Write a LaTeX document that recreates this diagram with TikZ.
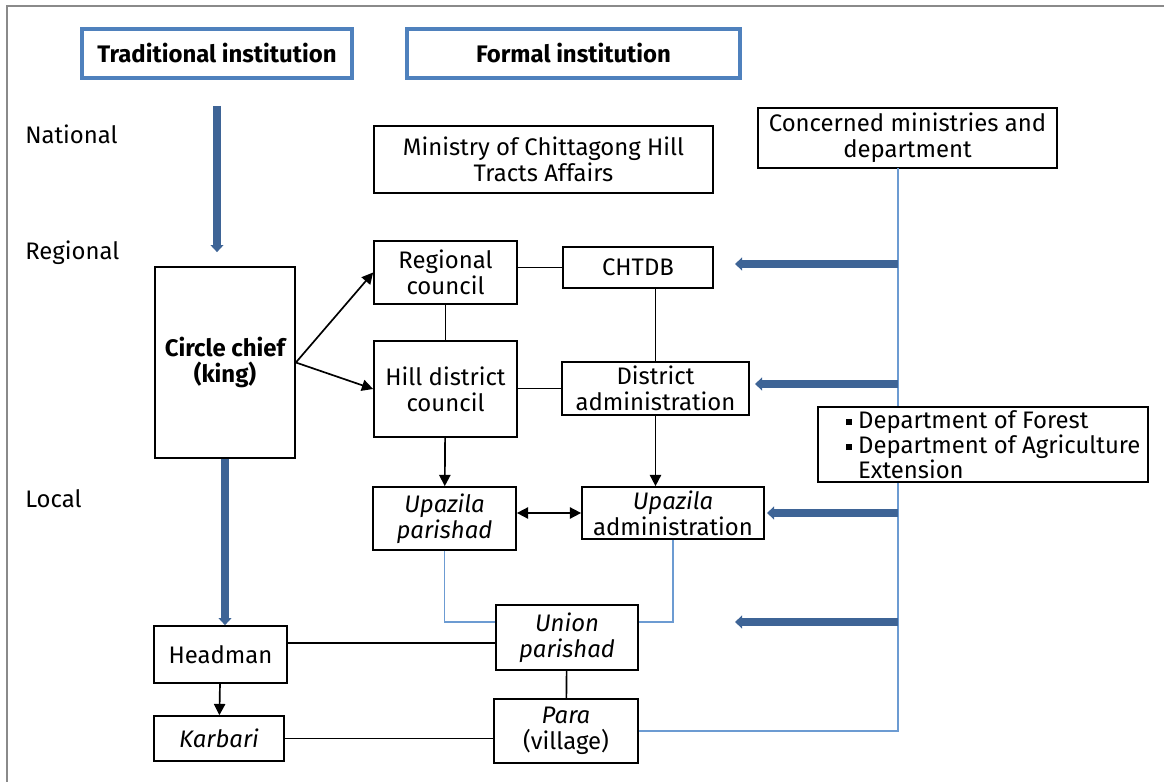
\documentclass[tikz,border=0pt]{standalone}
\usepackage{fontspec}
\setmainfont{Fira Sans}
\usetikzlibrary{arrows.meta}
\definecolor{headblue}{HTML}{4F81BD}
\definecolor{flowblue}{HTML}{3E6496}
\definecolor{linkblue}{HTML}{6C9BD2}
\definecolor{framegray}{HTML}{8A8A8A}
\providecommand{\sqbullet}{\hspace*{0.5cm}\raisebox{0.25ex}{\rule{4.5pt}{4.5pt}}\hspace{4.5pt}}

\begin{document}
\begin{tikzpicture}[x=0.025cm,y=-0.025cm,
    font=\fontsize{17}{18.5}\selectfont,
    box/.style={draw,line width=1.2pt,fill=white,align=center,inner sep=1pt},
    headbox/.style={draw=headblue,line width=2.6pt,minimum width=#1,minimum height=1.225cm,
        font=\fontsize{17}{18.5}\selectfont\bfseries},
    level/.style={anchor=west,inner sep=0pt},
    flow/.style={-{Triangle[width=8pt,length=8pt]},line width=1.2pt},
    bigarrow/.style={-{Triangle[width=9pt,length=5pt]},line width=5pt,draw=flowblue},
    link/.style={line width=1.1pt,draw=linkblue},
  ]
    \useasboundingbox (0,0) rectangle (1164,782);
    % frame of the screenshot
    \draw[framegray,line width=1.2pt] (7,782) -- (7,6) -- (1164,6);

    % column heads
    \node[headbox=6.75cm] (trad) at (217,53.5) {Traditional institution};
    \node[headbox=8.325cm] (formal) at (573.5,53.5) {Formal institution};

    % levels
    \node[level] (national) at (25,134) {National};
    \node[level] (regional) at (25,253) {Regional};
    \node[level] (local) at (25,499) {Local};

    % boxes
    \node[box,minimum width=8.475cm,minimum height=1.675cm] (ministry) at (543.5,159.5)
        {Ministry of Chittagong Hill\\Tracts Affairs};
    \node[box,minimum width=7.475cm,minimum height=1.5cm] (concerned) at (907.5,138)
        {Concerned ministries and\\department};
    \node[box,minimum width=3.575cm,minimum height=1.575cm] (rcouncil) at (445.5,272.5)
        {Regional\\council};
    \node[box,minimum width=3.75cm,minimum height=1.025cm] (chtdb) at (638,267.5) {CHTDB};
    \node[box,minimum width=3.5cm,minimum height=4.775cm,font=\fontsize{17}{18.5}\selectfont\bfseries]
        (chief) at (225,362.5) {Circle chief\\(king)};
    \node[box,minimum width=3.575cm,minimum height=2.4cm] (hill) at (445.5,389)
        {Hill district\\council};
    \node[box,minimum width=4.675cm,minimum height=1.325cm] (distadm) at (655.5,388.5)
        {District\\administration};
    \node[box,minimum width=3.575cm,minimum height=1.575cm] (upar) at (444.5,518.5)
        {\itshape Upazila\\\itshape parishad};
    \node[box,minimum width=4.55cm,minimum height=1.3cm] (uadm) at (673,513)
        {\itshape Upazila\\administration};
    \node[box,minimum width=3.55cm,minimum height=1.625cm] (union) at (567,637.5)
        {\itshape Union\\\itshape parishad};
    \node[box,minimum width=3.325cm,minimum height=1.425cm] (headman) at (220.5,654.5) {Headman};
    \node[box,minimum width=3.6cm,minimum height=1.6cm] (para) at (566,731)
        {\itshape Para\\(village)};
    \node[box,minimum width=3.25cm,minimum height=1.125cm] (karbari) at (219,738.5)
        {\itshape Karbari};

    % right spine and its arrows
    \coordinate (spine) at (898,168);
    \coordinate (t1) at (735,264);
    \coordinate (t2) at (755,384);
    \coordinate (t3) at (767,513);
    \coordinate (t4) at (735,622);
    \draw[link] (para.east) -| (spine);
    \foreach \t in {t1,t2,t3,t4}
        \draw[bigarrow] (spine |- \t) -- (\t);
    \node[box,minimum width=8.25cm,minimum height=1.875cm,align=left,inner xsep=0pt,
        font=\fontsize{17}{16}\selectfont] (dept) at (983,444.5)
        {\sqbullet Department of Forest\\\sqbullet Department of Agriculture\\\phantom{\sqbullet}Extension};

    % traditional side
    \draw[bigarrow] ([yshift=-0.65cm]trad.south) -- ([yshift=0.35cm]trad.south |- chief.north);
    \draw[bigarrow] (chief.south) -- (chief.south |- headman.north);
    \draw[flow] (headman) -- (karbari);
    \draw[flow] (chief.east) -- (rcouncil.west);
    \draw[flow] (chief.east) -- (hill.west);

    % formal side
    \draw[line width=1.2pt] (rcouncil.east |- chtdb.west) -- (chtdb.west);
    \draw[line width=1.2pt] (rcouncil) -- (hill);
    \draw[line width=1.2pt] (chtdb.south -| distadm.north) -- (distadm.north);
    \draw[line width=1.2pt] (hill.east |- distadm.west) -- (distadm.west);
    \draw[flow] (hill) -- (upar);
    \draw[flow] (distadm.south) -- (distadm.south |- uadm.north);
    \draw[flow,{Triangle[width=8pt,length=8pt]}-{Triangle[width=8pt,length=8pt]}]
        (upar.east |- uadm.west) -- (uadm.west);
    \draw[link] (upar.south) |- ([yshift=0.39cm]union.west);
    \draw[link] (uadm.south) |- ([yshift=0.39cm]union.east);
    \draw[line width=1.2pt] (union) -- (para);

    % links between the two sides
    \draw[line width=1.2pt] ([yshift=-0.14cm]headman.east |- union.west) -- ([yshift=-0.14cm]union.west);
    \draw[line width=1.2pt] (karbari.east) -- (karbari.east -| para.west);
\end{tikzpicture}
\end{document}
